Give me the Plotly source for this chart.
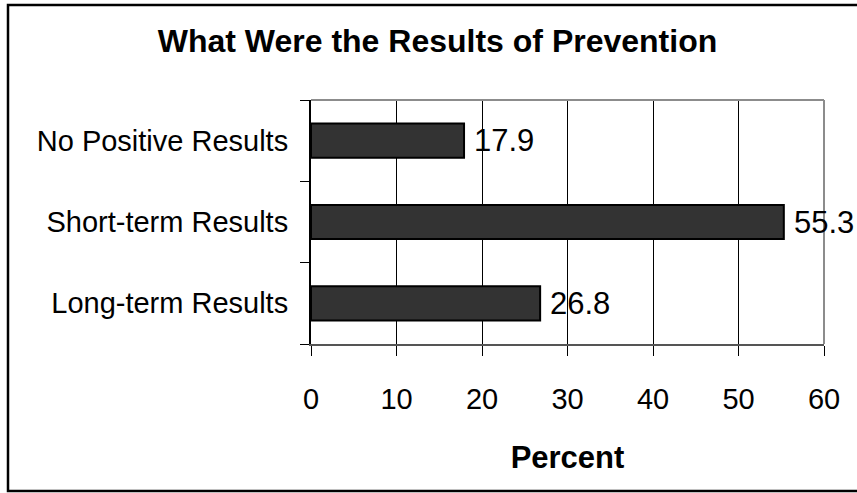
import plotly.graph_objects as go

# Data (bottom-to-top order as drawn by Plotly)
categories = ["Long-term Results", "Short-term Results", "No Positive Results"]
values = [26.8, 55.3, 17.9]
x_ticks = [0, 10, 20, 30, 40, 50, 60]

FONT = "Arial, 'Liberation Sans', sans-serif"
W, H = 857, 493
L, R, T, B = 311, 33, 100, 149
PW, PH = W - L - R, H - T - B


def px_x(p):
    return (p - L) / PW


def px_y(p):
    return (H - B - p) / PH


fig = go.Figure()
fig.add_trace(go.Bar(
    x=values,
    y=categories,
    orientation="h",
    width=0.42,
    marker=dict(color="#333333", line=dict(color="#000000", width=2)),
    showlegend=False,
    hoverinfo="x+y",
))

annotations = []
for cat, v in zip(categories, values):
    annotations.append(dict(
        x=v, y=cat, xref="x", yref="y", text=f"{v:.1f}", showarrow=False,
        xanchor="left", yanchor="middle", xshift=8,
        font=dict(family=FONT, size=31, color="#000000"),
    ))

shapes = [
    # gray plot frame (top and right)
    dict(type="line", xref="x domain", yref="y domain", x0=0, x1=1, y0=1, y1=1,
         line=dict(color="#8c8c8c", width=2), layer="above"),
    dict(type="line", xref="x domain", yref="y domain", x0=1, x1=1, y0=0, y1=1,
         line=dict(color="#8c8c8c", width=2), layer="above"),
    # outer chart border
    dict(type="rect", xref="paper", yref="paper",
         x0=px_x(8), x1=px_x(880), y0=px_y(491), y1=px_y(5),
         line=dict(color="#000000", width=2.5), fillcolor="rgba(0,0,0,0)", layer="above"),
]

fig.update_layout(
    width=W, height=H,
    margin=dict(l=L, r=R, t=T, b=B, pad=0),
    paper_bgcolor="#ffffff",
    plot_bgcolor="#ffffff",
    font=dict(family=FONT, color="#000000"),
    title=dict(
        text="<b>What Were the Results of Prevention</b>",
        font=dict(family=FONT, size=32, color="#000000"),
        x=437.5 / W, xref="container", xanchor="center",
        y=1 - 41 / H, yref="container", yanchor="middle",
    ),
    annotations=annotations,
    shapes=shapes,
    bargap=0.58,
)

fig.update_xaxes(
    range=[0, 60],
    tickvals=x_ticks,
    ticktext=[str(t) for t in x_ticks],
    showgrid=True, gridcolor="#000000", gridwidth=1,
    zeroline=False,
    showline=True, linecolor="#555555", linewidth=2,
    ticks="outside", ticklen=10, tickcolor="#000000", tickwidth=1,
    tickfont=dict(family=FONT, size=29, color="#000000"),
    ticklabelstandoff=18,
    title=dict(text="<b>Percent</b>", font=dict(family=FONT, size=31, color="#000000"),
               standoff=33),
    fixedrange=True,
)

fig.update_yaxes(
    type="category",
    categoryorder="array", categoryarray=categories,
    tickson="boundaries",
    showgrid=False,
    zeroline=False,
    showline=True, linecolor="#000000", linewidth=2,
    ticks="outside", ticklen=9, tickcolor="#000000", tickwidth=1,
    tickfont=dict(family=FONT, size=29, color="#000000"),
    ticklabelstandoff=15,
    fixedrange=True,
)

fig.write_html("out.html")
